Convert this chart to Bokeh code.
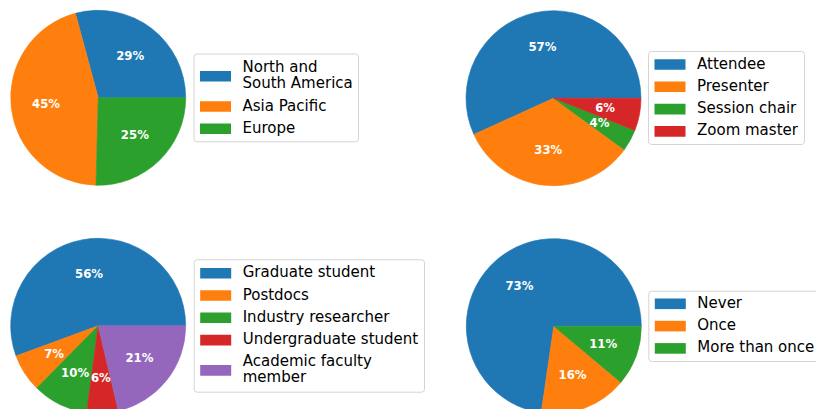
import math
from bokeh.plotting import figure
from bokeh.models import Range1d, ColumnDataSource
from bokeh.core.properties import value
from bokeh.embed import file_html
from bokeh.resources import INLINE

# ---- data ----
region_labels = ["North and\nSouth America", "Asia Pacific", "Europe"]
region_values = [29.2, 45.4, 25.4]

role_labels = ["Attendee", "Presenter", "Session chair", "Zoom master"]
role_values = [56.8, 33.2, 4.0, 6.0]

position_labels = ["Graduate student", "Postdocs", "Industry researcher",
                   "Undergraduate student", "Academic faculty\nmember"]
position_values = [55.6, 7.0, 10.3, 5.8, 21.3]

attend_labels = ["Never", "Once", "More than once"]
attend_values = [72.7, 16.2, 11.1]

colors = ["#1f77b4", "#ff7f0e", "#2ca02c", "#d62728", "#9467bd"]

# ---- layout (pixel-like data coordinates) ----
W, H = 816, 409
p = figure(width=W, height=H, output_backend="svg", toolbar_location=None,
           x_range=Range1d(0, W), y_range=Range1d(H, 0), min_border=0)
p.axis.visible = False
p.grid.visible = False
p.outline_line_color = None
p.background_fill_color = "white"
p.border_fill_color = "white"

R = 87.5
panels = [
    (region_labels, region_values, (97.7, 97.3), (193.5, 358, 53.5, 141.3), 66.7),
    (role_labels, role_values, (553.0, 97.7), (648, 804, 51, 144), 63.0),
    (position_labels, position_values, (97.7, 325.3), (193.7, 424, 259.3, 391.7), 271.7),
    (attend_labels, attend_values, (553.3, 325.7), (648.3, 840, 290.7, 361), 302.3),
]

for labels, vals, (cx, cy), (fl, fr, ft, fb), y0 in panels:
    total = float(sum(vals))
    starts, ends, cols, tx, ty, tt = [], [], [], [], [], []
    a = 0.0
    for i, v in enumerate(vals):
        span = 2 * math.pi * v / total
        starts.append(a)
        ends.append(a + span)
        cols.append(colors[i])
        mid = a + span / 2
        tx.append(cx + 0.6 * R * math.cos(mid))
        ty.append(cy - 0.6 * R * math.sin(mid))
        tt.append("%1.0f%%" % (100 * v / total))
        a += span
    src = ColumnDataSource(dict(x=[cx] * len(vals), y=[cy] * len(vals),
                                s=starts, e=ends, c=cols))
    p.wedge(x="x", y="y", radius=R, start_angle="s", end_angle="e",
            fill_color="c", line_color="c", line_width=0.6, source=src)
    p.text(x=tx, y=ty, text=tt, text_color="white",
           text_font=value("DejaVu Sans"), text_font_style="bold",
           text_font_size="11.7px", text_align="center", text_baseline="middle")

    # legend frame
    p.quad(left=[fl], right=[fr], top=[ft], bottom=[fb], fill_color="white",
           fill_alpha=0.8, line_color="#d4d4d4", line_width=1, border_radius=3)
    y = y0
    for i, lab in enumerate(labels):
        lines = lab.split("\n")
        n = len(lines)
        pc = y + 8 * (n - 1) + 1.0
        p.quad(left=[fl + 6], right=[fl + 37], top=[pc - 5.3], bottom=[pc + 5.3],
               fill_color=colors[i], line_color=None)
        p.text(x=[fl + 48.5] * n, y=[y + 16 * k for k in range(n)], text=lines,
               text_color="black", text_font=value("DejaVu Sans"),
               text_font_size="15px", text_align="left", text_baseline="middle")
        y += 16 * (n - 1) + 22.3

open("out.html", "w").write(file_html(p, INLINE))
